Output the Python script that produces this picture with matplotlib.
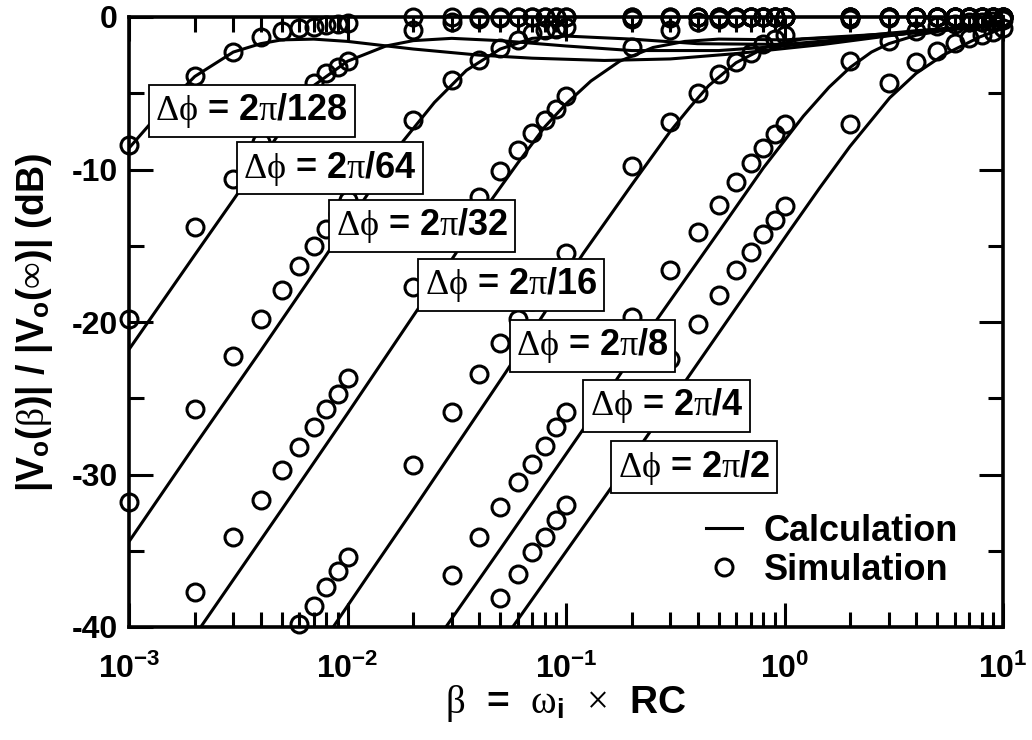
import numpy as np
import matplotlib
matplotlib.use('Agg')
import matplotlib.pyplot as plt
from matplotlib.lines import Line2D
from matplotlib.ticker import FixedLocator, NullFormatter

plt.rcParams['font.family'] = ['Liberation Sans', 'DejaVu Sans']
plt.rcParams['mathtext.fontset'] = 'custom'
plt.rcParams['mathtext.rm'] = 'Liberation Serif:normal'
plt.rcParams['mathtext.it'] = 'Liberation Serif:normal'
plt.rcParams['mathtext.bf'] = 'Liberation Sans:bold'
plt.rcParams['axes.unicode_minus'] = False

nan = float('nan')

# ---------------- data ----------------
labels = ['2\u03c0/128', '2\u03c0/64', '2\u03c0/32', '2\u03c0/16', '2\u03c0/8', '2\u03c0/4', '2\u03c0/2']

# simulation abscissae
sim_beta = [1e-3, 2e-3, 3e-3, 4e-3, 5e-3, 6e-3, 7e-3, 8e-3, 9e-3,
            1e-2, 2e-2, 3e-2, 4e-2, 5e-2, 6e-2, 7e-2, 8e-2, 9e-2,
            1e-1, 2e-1, 3e-1, 4e-1, 5e-1, 6e-1, 7e-1, 8e-1, 9e-1,
            1, 2, 3, 4, 5, 6, 7, 8, 9, 10]

sim_128 = [-8.4, -3.9, -2.3, -1.33, -0.9, -0.74, -0.63, -0.52, -0.46,
           -0.37, 0, 0, 0, 0, 0, 0, 0, 0,
           0, 0, 0, 0, 0, 0, 0, 0, 0,
           0, 0, 0, 0, 0, 0, 0, 0, 0, 0]
sim_64 = [-19.8, -13.8, -10.6, -8.2, -6.6, -5.3, -4.3, -3.7, -3.3,
          -2.9, -0.85, -0.35, -0.15, -0.05, 0, 0, 0, 0,
          0, 0, 0, 0, 0, 0, 0, 0, 0,
          0, 0, 0, 0, 0, 0, 0, 0, 0, 0]
sim_32 = [-31.8, -25.7, -22.2, -19.8, -17.9, -16.3, -15.0, -13.9, -12.9,
          -12.0, -6.75, -4.15, -2.85, -2.05, -1.5, -1.07, -0.85, -0.77,
          -0.63, -0.15, -0.05, 0, 0, 0, 0, 0, 0,
          0, 0, 0, 0, 0, 0, 0, 0, 0, 0]
sim_16 = [nan, -37.7, -34.1, -31.7, -29.7, -28.2, -26.9, -25.7, -24.7,
          -23.7, -17.7, -14.2, -11.8, -10.1, -8.7, -7.6, -6.75, -6.0,
          -5.2, -1.95, -0.85, -0.35, -0.15, -0.05, 0, 0, 0,
          0, 0, 0, 0, 0, 0, 0, 0, 0, 0]
sim_8 = [nan, nan, nan, nan, nan, -39.8, -38.6, -37.4, -36.3,
         -35.4, -29.4, -25.9, -23.4, -21.4, -19.8, -18.6, -17.5, -16.5,
         -15.5, -9.8, -6.9, -5.0, -3.75, -2.95, -2.35, -1.8, -1.45,
         -1.15, -0.15, -0.05, 0, 0, 0, 0, 0, 0, 0]
sim_4 = [nan, nan, nan, nan, nan, nan, nan, nan, nan,
         nan, nan, -36.6, -34.1, -32.1, -30.5, -29.3, -28.1, -26.9,
         -25.9, -19.65, -16.6, -14.1, -12.3, -10.8, -9.6, -8.6, -7.7,
         -7.0, -2.9, -1.6, -0.9, -0.6, -0.45, -0.35, -0.3, -0.25, -0.2]
sim_2 = [nan, nan, nan, nan, nan, nan, nan, nan, nan,
         nan, nan, nan, nan, -38.1, -36.5, -35.1, -34.1, -33.0,
         -32.0, -26.0, -22.4, -20.1, -18.2, -16.6, -15.4, -14.2, -13.3,
         -12.4, -7.0, -4.3, -2.95, -2.2, -1.7, -1.4, -1.2, -1.0, -0.75]

# calculation curves (beta, dB)
calc_128_b = [1e-3, 1.5e-3, 2e-3, 3e-3, 4e-3, 5e-3, 7e-3, 1e-2, 2e-2, 4e-2, 7e-2, 0.15, 0.3, 0.6, 1.5, 4, 10]
calc_128_db = [-8.6, -5.7, -3.9, -2.3, -1.75, -1.5, -1.45, -1.6, -2.1, -2.5, -2.7, -2.85, -2.75, -2.4, -1.8, -1.0, -0.45]
calc_64_b = [1e-3, 2e-3, 3e-3, 5e-3, 7e-3, 1e-2, 1.5e-2, 2e-2, 3e-2, 5e-2, 0.1, 0.2, 0.5, 1, 3, 10]
calc_64_db = [-21.8, -15.6, -12.0, -7.4, -4.5, -2.9, -1.9, -1.55, -1.4, -1.55, -1.9, -2.2, -2.2, -1.9, -1.2, -0.45]
calc_32_b = [1e-3, 2e-3, 4e-3, 8e-3, 1.2e-2, 1.76e-2, 2.5e-2, 3.5e-2, 5e-2, 7e-2, 0.1, 0.2, 0.4, 1, 3, 10]
calc_32_db = [-34.4, -28.1, -21.9, -15.6, -11.9, -8.3, -5.6, -3.5, -2.1, -1.4, -1.25, -1.45, -1.75, -1.8, -1.2, -0.45]
calc_16_b = [2.13e-3, 5e-3, 1e-2, 2e-2, 3e-2, 4.5e-2, 6e-2, 8e-2, 0.1, 0.13, 0.176, 0.25, 0.35, 0.5, 1, 3, 10]
calc_16_db = [-40, -32.3, -26.0, -19.6, -15.9, -12.1, -9.6, -7.2, -5.7, -4.2, -2.9, -2.0, -1.6, -1.45, -1.5, -1.1, -0.45]
calc_8_b = [8.6e-3, 1.26e-2, 2e-2, 5.3e-2, 0.12, 0.2, 0.3, 0.37, 0.45, 0.6, 0.83, 1.2, 2, 4, 10]
calc_8_db = [-40, -36.5, -32.3, -23.3, -15.5, -11.0, -7.5, -5.9, -4.5, -3.0, -1.95, -1.45, -1.3, -0.9, -0.45]
calc_4_b = [2.82e-2, 5e-2, 0.119, 0.259, 0.505, 0.8, 1.22, 1.6, 2, 2.5, 3, 4, 5, 10]
calc_4_db = [-40, -34.9, -27.1, -19.9, -14.0, -9.9, -6.5, -4.6, -3.3, -2.3, -1.75, -1.2, -0.95, -0.45]
calc_2_b = [5.7e-2, 0.155, 0.355, 1.057, 1.45, 1.99, 3.03, 4, 5.33, 7.85, 10]
calc_2_db = [-40, -31.2, -23.8, -14.0, -11.2, -8.5, -5.3, -3.7, -2.5, -1.3, -0.75]

x_ticks = [1e-3, 1e-2, 1e-1, 1, 10]
x_ticklabels = [r'$\mathbf{10^{-3}}$', r'$\mathbf{10^{-2}}$', r'$\mathbf{10^{-1}}$',
                r'$\mathbf{10^{0}}$', r'$\mathbf{10^{1}}$']
y_ticks = [0, -10, -20, -30, -40]
y_ticklabels = ['0', '-10', '-20', '-30', '-40']

# ---------------- plot ----------------
fig = plt.figure(figsize=(10.32, 7.40), dpi=100)
ax = fig.add_axes([129/1032, 1-627/740, 874/1032, 610/740])

calc = [(calc_128_b, calc_128_db), (calc_64_b, calc_64_db), (calc_32_b, calc_32_db),
        (calc_16_b, calc_16_db), (calc_8_b, calc_8_db), (calc_4_b, calc_4_db),
        (calc_2_b, calc_2_db)]
sims = [sim_128, sim_64, sim_32, sim_16, sim_8, sim_4, sim_2]

for b, d in calc:
    ax.plot(b, d, color='black', lw=2.2, solid_capstyle='butt', zorder=3)
for s in sims:
    ax.plot(sim_beta, s, linestyle='none', marker='o', ms=12.2, mfc='none',
            mec='black', mew=2.2, clip_on=False, zorder=4)

ax.set_xscale('log')
ax.set_xlim(1e-3, 10)
ax.set_ylim(-40, 0)

ax.set_xticks(x_ticks, x_ticklabels)
ax.xaxis.set_minor_locator(FixedLocator([m * 10.0**k for k in range(-3, 1) for m in range(2, 10)]))
ax.xaxis.set_minor_formatter(NullFormatter())
ax.set_yticks(y_ticks, y_ticklabels)
ax.yaxis.set_minor_locator(FixedLocator([-5, -15, -25, -35]))

ax.tick_params(which='both', direction='in', top=True, right=True, width=2.2, labelsize=23)
ax.tick_params(which='major', length=17)
ax.tick_params(which='minor', length=11)
ax.tick_params(axis='x', pad=19)
ax.tick_params(axis='y', pad=8)
for lab in ax.get_yticklabels() + ax.get_xticklabels():
    lab.set_fontweight('bold')
for sp in ax.spines.values():
    sp.set_linewidth(2.6)

ax.set_xlabel(r'$\beta$  =  $\omega_{\mathbf{i}}$  $\times$  RC', fontsize=28, fontweight='bold', labelpad=-1)
ax.set_ylabel(r'|V$_{\mathbf{o}}$($\beta$)| / |V$_{\mathbf{o}}$($\infty$)| (dB)', fontsize=27,
              fontweight='bold', labelpad=12)

# labels with boxes (axes-fraction positions)
label_pos = [(0.1407, 0.8462), (0.2299, 0.7517), (0.3350, 0.6574), (0.4372, 0.5607),
             (0.5304, 0.4607), (0.6151, 0.3623), (0.6466, 0.2615)]
for lab, (px, py) in zip(labels, label_pos):
    txt = r'$\Delta\phi$ = ' + lab.replace('\u03c0', r'$\pi$')
    ax.text(px, py, txt, transform=ax.transAxes, ha='center', va='center',
            fontsize=26, fontweight='bold', zorder=10,
            bbox=dict(boxstyle='square,pad=0.18', fc='white', ec='black', lw=1.3))

handles = [Line2D([], [], color='black', lw=2.2),
           Line2D([], [], linestyle='none', marker='o', ms=12.2, mfc='none', mec='black', mew=2.2)]
leg = ax.legend(handles, ['Calculation', 'Simulation'], loc='lower right',
                bbox_to_anchor=(0.969, 0.035), frameon=False,
                handlelength=1.0, handletextpad=0.6, labelspacing=0.1, borderpad=0,
                prop={'weight': 'bold', 'size': 26, 'family': ['Liberation Sans']})

fig.savefig('out.png', dpi=100)
